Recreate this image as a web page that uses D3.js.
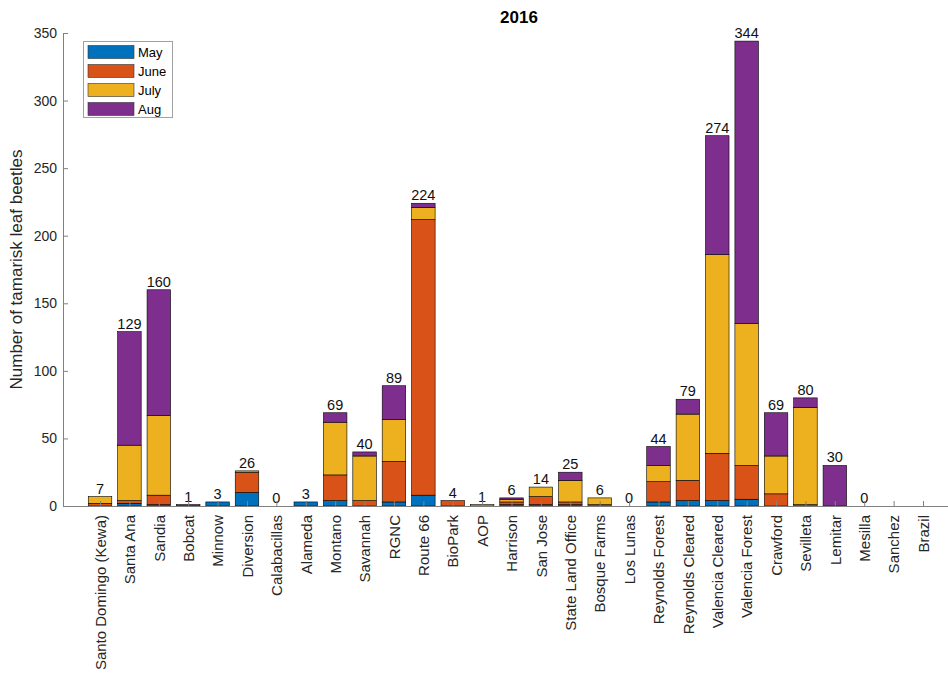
<!DOCTYPE html>
<html>
<head>
<meta charset="utf-8">
<script src="https://cdn.jsdelivr.net/npm/d3@7"></script>
<style>
  body { margin: 0; background: #fff; }
  text { font-family: "Liberation Sans", Arial, Helvetica, sans-serif; }
</style>
</head>
<body>
<script>
var sites = ["Santo Domingo (Kewa)", "Santa Ana", "Sandia", "Bobcat", "Minnow", "Diversion",
  "Calabacillas", "Alameda", "Montano", "Savannah", "RGNC", "Route 66", "BioPark", "AOP",
  "Harrison", "San Jose", "State Land Office", "Bosque Farms", "Los Lunas", "Reynolds Forest",
  "Reynolds Cleared", "Valencia Cleared", "Valencia Forest", "Crawford", "Sevilleta", "Lemitar",
  "Mesilla", "Sanchez", "Brazil"];

var months = ["May", "June", "July", "Aug"];
var colors = ["#0072BD", "#D95319", "#EDB120", "#7E2F8E"];

var may  = [0, 2, 1, 0, 3, 10, 0, 3, 4, 0, 3, 8, 0, 0, 1, 1, 1, 0, 0, 3, 4, 4, 5, 0, 0, 0, 0, 0, 0];
var june = [2, 2, 7, 0, 0, 15, 0, 0, 19, 4, 30, 204, 4, 0, 2, 6, 2, 1, 0, 15, 15, 35, 25, 9, 1, 0, 0, 0, 0];
var july = [5, 41, 59, 0, 0, 1, 0, 0, 39, 33, 31, 9, 0, 1, 2, 7, 16, 5, 0, 12, 49, 147, 105, 28, 72, 0, 0, 0, 0];
var aug  = [0, 84, 93, 1, 0, 0, 0, 0, 7, 3, 25, 3, 0, 0, 1, 0, 6, 0, 0, 14, 11, 88, 209, 32, 7, 30, 0, 0, 0];

// sites with no sampling get no total label
var sampled = sites.map(function (s) { return s !== "Sanchez" && s !== "Brazil"; });

var yTicks = [0, 50, 100, 150, 200, 250, 300, 350];

var width = 948, height = 677;
var plotLeft = 63, plotRight = 948, plotTop = 33, plotBottom = 506;

var svg = d3.select("body").append("svg")
  .attr("width", width)
  .attr("height", height);

var xScale = d3.scaleLinear()
  .domain([-1.26, 28.85])
  .range([plotLeft, plotRight]);

var yScale = d3.scaleLinear()
  .domain([0, 350])
  .range([plotBottom, plotTop]);

var barW = (xScale(1) - xScale(0)) * 0.8;

var rows = sites.map(function (s, i) {
  return { site: s, i: i, May: may[i], June: june[i], July: july[i], Aug: aug[i] };
});

var stacked = d3.stack().keys(months)(rows);

svg.selectAll("g.layer")
  .data(stacked)
  .enter()
  .append("g")
  .attr("class", "layer")
  .attr("fill", function (d, i) { return colors[i]; })
  .selectAll("rect")
  .data(function (d) { return d.filter(function (p) { return p[1] > p[0]; }); })
  .enter()
  .append("rect")
  .attr("x", function (d) { return xScale(d.data.i) - barW / 2; })
  .attr("y", function (d) { return yScale(d[1]); })
  .attr("width", barW)
  .attr("height", function (d) { return yScale(d[0]) - yScale(d[1]); })
  .attr("stroke", "#000")
  .attr("stroke-width", 0.6);

// totals on top
svg.selectAll("text.total")
  .data(rows.filter(function (d) { return sampled[d.i]; }))
  .enter()
  .append("text")
  .attr("class", "total")
  .attr("x", function (d) { return xScale(d.i); })
  .attr("y", function (d) { return yScale(d.May + d.June + d.July + d.Aug) - 3; })
  .attr("text-anchor", "middle")
  .attr("font-size", 14.5)
  .attr("fill", "#111")
  .text(function (d) { return d.May + d.June + d.July + d.Aug; });

// axes
var xAxis = d3.axisBottom(xScale)
  .tickValues(d3.range(sites.length))
  .tickSize(-5)
  .tickSizeOuter(0)
  .tickPadding(0)
  .tickFormat(function (i) { return sites[i]; });

var gx = svg.append("g")
  .attr("transform", "translate(0," + plotBottom + ")")
  .call(xAxis);

gx.selectAll("text")
  .attr("transform", "rotate(-90)")
  .attr("text-anchor", "end")
  .attr("x", -9)
  .attr("y", 0)
  .attr("dy", "0.35em")
  .attr("font-size", 15)
  .attr("fill", "#262626");

var yAxis = d3.axisLeft(yScale)
  .tickValues(yTicks)
  .tickSize(-5)
  .tickSizeOuter(0)
  .tickPadding(6);

var gy = svg.append("g")
  .attr("transform", "translate(" + plotLeft + ",0)")
  .call(yAxis);

gy.selectAll("text")
  .attr("font-size", 14)
  .attr("fill", "#262626");

svg.selectAll(".domain, .tick line")
  .attr("stroke", "#808080")
  .attr("stroke-width", 1);

// y label
svg.append("text")
  .attr("transform", "translate(22," + (plotTop + plotBottom) / 2 + ") rotate(-90)")
  .attr("text-anchor", "middle")
  .attr("font-size", 17)
  .attr("fill", "#262626")
  .text("Number of tamarisk leaf beetles");

// title
svg.append("text")
  .attr("x", 519)
  .attr("y", 23)
  .attr("text-anchor", "middle")
  .attr("font-size", 17)
  .attr("font-weight", "bold")
  .attr("fill", "#000")
  .text("2016");

// legend
var legend = svg.append("g");
legend.append("rect")
  .attr("x", 83.5)
  .attr("y", 41.5)
  .attr("width", 89)
  .attr("height", 76)
  .attr("fill", "#fff")
  .attr("stroke", "#a0a0a0");

var items = legend.selectAll("g.item")
  .data(months)
  .enter()
  .append("g")
  .attr("class", "item")
  .attr("transform", function (d, i) { return "translate(0," + (52 + i * 19) + ")"; });

items.append("rect")
  .attr("x", 88)
  .attr("y", -6.5)
  .attr("width", 46)
  .attr("height", 13)
  .attr("fill", function (d, i) { return colors[i]; })
  .attr("stroke", "#333")
  .attr("stroke-width", 0.6);

items.append("text")
  .attr("x", 138)
  .attr("dy", "0.35em")
  .attr("font-size", 13)
  .attr("fill", "#000")
  .text(function (d) { return d; });
</script>
</body>
</html>
